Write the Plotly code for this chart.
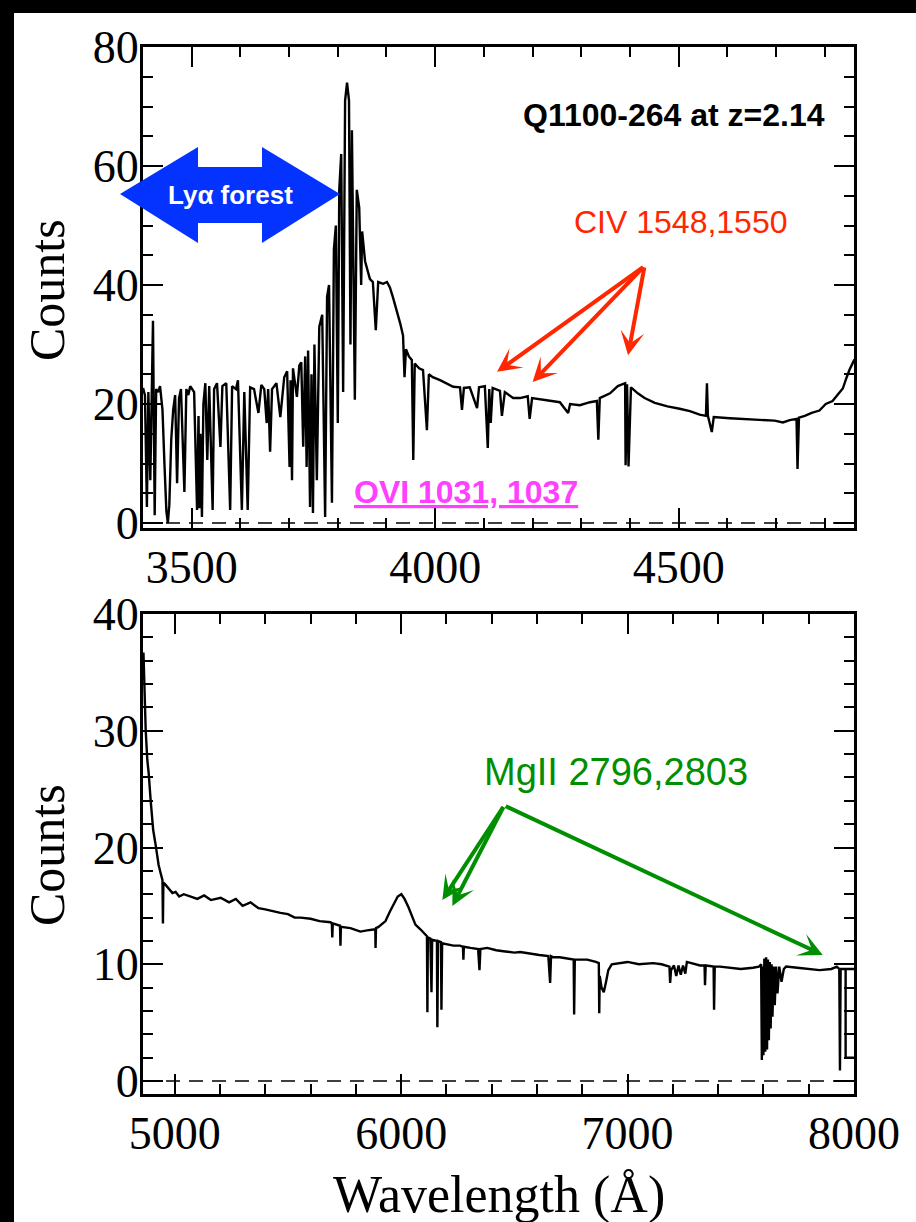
import plotly.graph_objects as go

# ---------------- data ----------------
top_wavelength = [
    3400, 3404, 3408, 3411, 3415, 3418, 3420.5, 3422, 3424, 3427,
    3431, 3435, 3440, 3444, 3448, 3451, 3454, 3458, 3462, 3466,
    3470, 3474, 3478, 3485, 3489, 3493, 3497, 3505, 3511, 3514,
    3516, 3518, 3521, 3524, 3528, 3532, 3536, 3543, 3546, 3552,
    3559, 3563, 3571, 3579, 3583, 3591, 3595, 3603, 3608, 3615,
    3620, 3628, 3637, 3643, 3649, 3654, 3657, 3661, 3665, 3674,
    3682, 3690, 3696, 3701, 3703, 3706, 3708, 3716, 3721, 3725,
    3729, 3733, 3736, 3739, 3743, 3746, 3749, 3752, 3757, 3762,
    3768, 3774, 3778, 3782, 3788, 3792, 3796, 3800, 3803, 3807,
    3811, 3815, 3819, 3823, 3826, 3829, 3835, 3839, 3844, 3848,
    3850, 3856, 3862, 3866, 3872, 3878, 3883, 3893, 3901, 3907,
    3913, 3922, 3928, 3934, 3937, 3940, 3946, 3952, 3955, 3958,
    3967, 3975, 3983, 3987, 3995, 4010, 4024, 4037, 4051, 4055,
    4059, 4071, 4086, 4090, 4102, 4108, 4111, 4114, 4118, 4133,
    4137, 4143, 4160, 4174, 4190, 4194, 4199, 4215, 4236, 4256,
    4273, 4277, 4297, 4318, 4332, 4335, 4338, 4359, 4375, 4390,
    4391, 4394, 4397, 4402, 4416, 4430, 4451, 4477, 4502, 4523,
    4543, 4556, 4558, 4560, 4568, 4572, 4605, 4636, 4666, 4697,
    4714, 4728, 4742, 4744, 4747, 4759, 4773, 4789, 4802, 4816,
    4826, 4837, 4845, 4851, 4861,
]
top_counts = [
    22.7, 21.5, 2.7, 22.0, 7.2, 21.0, 34.0, 20.0, 1.3, 22.5,
    22.0, 23.0, 19.0, 10.0, 2.0, 0.0, 3.0, 14.0, 19.0, 21.5,
    6.7, 21.0, 22.5, 5.2, 22.5, 21.5, 23.0, 22.0, 2.2, 18.0,
    2.5, 15.0, 1.0, 20.0, 23.5, 10.6, 23.0, 2.2, 22.5, 23.5,
    12.8, 23.0, 23.5, 2.2, 23.0, 22.5, 24.0, 2.2, 22.0, 2.2,
    22.8, 22.5, 18.5, 23.2, 22.5, 16.8, 22.5, 12.0, 22.5, 23.5,
    17.8, 24.5, 25.5, 9.4, 24.0, 7.2, 26.0, 21.2, 26.5, 27.0,
    12.8, 28.0, 9.4, 29.0, 2.7, 25.0, 1.7, 30.0, 7.2, 33.0,
    35.0, 1.0, 38.0, 40.0, 3.4, 46.0, 50.0, 16.8, 56.0, 62.0,
    22.0, 71.0, 74.0, 71.0, 30.0, 66.0, 20.7, 56.0, 53.0, 40.0,
    49.0, 44.0, 42.0, 41.0, 40.5, 32.4, 40.5, 40.2, 40.5, 39.6,
    38.0, 35.5, 33.6, 31.5, 24.5, 29.2, 28.0, 27.4, 10.6, 26.8,
    26.0, 25.7, 15.6, 25.0, 24.5, 24.0, 23.5, 22.9, 22.8, 19.0,
    22.7, 22.8, 19.3, 22.8, 23.0, 12.6, 22.5, 16.8, 22.7, 22.2,
    18.0, 22.0, 21.0, 21.0, 21.3, 17.5, 21.0, 20.8, 20.6, 20.3,
    18.5, 20.0, 19.8, 20.3, 20.5, 14.0, 21.0, 21.8, 23.0, 23.5,
    9.7, 23.3, 9.5, 22.8, 21.8, 21.0, 20.2, 19.6, 19.2, 18.8,
    18.2, 18.0, 23.5, 18.0, 15.3, 17.8, 17.6, 17.5, 17.3, 17.2,
    16.9, 17.3, 17.5, 9.1, 17.7, 18.0, 18.5, 18.9, 20.0, 20.5,
    21.5, 22.6, 24.5, 25.8, 27.5,
]

bottom_wavelength = [
    4862, 4866, 4872, 4879, 4885, 4894, 4905, 4916, 4929, 4938,
    4946, 4948, 4950, 4960, 4975, 4990, 5004, 5020, 5040, 5070,
    5100, 5130, 5160, 5203, 5240, 5270, 5300, 5335, 5370, 5400,
    5440, 5467, 5500, 5530, 5556, 5600, 5640, 5688, 5694, 5696,
    5698, 5720, 5730, 5732, 5734, 5776, 5800, 5820, 5850, 5880,
    5886, 5887, 5889, 5900, 5931, 5950, 5966, 5985, 6001, 6015,
    6032, 6050, 6063, 6085, 6107, 6114, 6116, 6118, 6129, 6134,
    6137, 6158, 6160, 6163, 6176, 6178, 6181, 6200, 6231, 6260,
    6273, 6275, 6277, 6306, 6340, 6346, 6350, 6380, 6420, 6460,
    6500, 6526, 6570, 6610, 6650, 6658, 6662, 6672, 6700, 6740,
    6762, 6764, 6767, 6800, 6822, 6860, 6873, 6875, 6877, 6885,
    6895, 6905, 6915, 6930, 6967, 7000, 7050, 7113, 7150, 7185,
    7188, 7192, 7205, 7215, 7225, 7235, 7245, 7255, 7262, 7300,
    7320, 7340, 7342, 7345, 7380, 7382, 7385, 7408, 7450, 7500,
    7554, 7580, 7590, 7593, 7597, 7600, 7604, 7608, 7612, 7616,
    7620, 7624, 7628, 7632, 7636, 7640, 7645, 7650, 7656, 7662,
    7670, 7680, 7690, 7700, 7750, 7800, 7848, 7900, 7924, 7935,
    7938, 7941, 7963, 8010, 8010, 7963, 7963,
]
bottom_counts = [
    36.7, 33.0, 30.0, 27.5, 26.4, 24.0, 21.5, 20.2, 18.5, 17.8,
    17.2, 13.5, 17.0, 16.8, 16.4, 16.1, 16.2, 15.8, 16.0, 15.8,
    15.6, 15.9, 15.5, 15.7, 15.3, 15.6, 15.0, 15.3, 14.8, 14.7,
    14.5, 14.4, 14.3, 14.0, 14.0, 13.9, 13.7, 13.6, 13.5, 12.3,
    13.5, 13.4, 13.3, 11.6, 13.2, 13.1, 12.9, 12.8, 12.9, 13.0,
    13.0, 11.4, 13.1, 13.2, 13.7, 14.5, 15.1, 15.8, 16.0, 15.6,
    14.9, 14.0, 13.4, 13.0, 12.5, 12.4, 5.9, 12.3, 12.2, 7.6,
    12.1, 12.0, 4.6, 12.0, 11.9, 6.1, 11.8, 11.7, 11.6, 11.6,
    11.5, 10.4, 11.5, 11.4, 11.3, 9.5, 11.3, 11.4, 11.2, 11.1,
    11.0, 11.05, 10.9, 10.8, 10.7, 8.4, 10.7, 10.6, 10.6, 10.5,
    10.4, 5.7, 10.4, 10.4, 10.4, 10.2, 10.1, 5.8, 9.0, 8.0,
    7.6, 8.5, 9.5, 10.0, 10.1, 10.2, 10.0, 10.1, 10.0, 9.8,
    8.4, 9.5, 9.9, 9.0, 9.9, 9.1, 9.9, 9.2, 10.2, 10.0,
    9.9, 9.9, 8.2, 9.9, 9.8, 6.1, 9.8, 9.8, 9.7, 9.6,
    9.7, 9.8, 10.0, 1.8, 9.8, 2.2, 10.5, 2.5, 10.6, 2.7,
    10.4, 3.5, 10.2, 4.5, 10.0, 5.5, 9.8, 6.5, 9.8, 7.5,
    9.8, 8.5, 9.6, 9.8, 9.7, 9.6, 9.5, 9.6, 9.8, 9.6,
    0.9, 9.6, 9.6, 9.6, 2.0, 2.0, 9.6,
]

top_x_range = [3400, 4860]
top_y_range = [-0.84, 80]
bottom_x_range = [4860, 8000]
bottom_y_range = [-1.11, 40]

# arrow targets (data coordinates): CIV doublet, MgII doublet
civ_heads = [(4127, 25.4), (4200, 23.7), (4396, 28.2)]
civ_tail = (4430, 43.2)
mgii_heads = [(6182, 15.5), (6226, 15.0), (7862, 10.8)]
mgii_tail = (6455, 23.6)

# ---------------- layout geometry ----------------
W, H = 916, 1222
ML, MR, MT, MB = 143, 62, 47, 128
PW = W - ML - MR
PH = H - MT - MB


def pxx(x):
    return (x - ML) / PW


def pxy(y):
    return (H - MB - y) / PH


SERIF = "Liberation Serif"
SANS = "Liberation Sans"

fig = go.Figure()

fig.add_trace(go.Scatter(x=top_wavelength, y=top_counts, mode="lines",
                         line=dict(color="black", width=2.4),
                         xaxis="x", yaxis="y", showlegend=False))
fig.add_trace(go.Scatter(x=top_x_range, y=[0, 0], mode="lines",
                         line=dict(color="black", width=1.6, dash="14px,9px"),
                         xaxis="x", yaxis="y", showlegend=False))
fig.add_trace(go.Scatter(x=bottom_wavelength, y=bottom_counts, mode="lines",
                         line=dict(color="black", width=2.4),
                         xaxis="x2", yaxis="y2", showlegend=False))
fig.add_trace(go.Scatter(x=bottom_x_range, y=[0, 0], mode="lines",
                         line=dict(color="black", width=1.6, dash="14px,9px"),
                         xaxis="x2", yaxis="y2", showlegend=False))

axis_common = dict(showline=True, linecolor="black", linewidth=3, mirror="allticks",
                   ticks="inside", ticklen=20, tickwidth=1.5, tickcolor="black",
                   showgrid=False, zeroline=False,
                   tickfont=dict(family=SERIF, size=46, color="black"))

fig.update_layout(
    width=W, height=H,
    margin=dict(l=ML, r=MR, t=MT, b=MB),
    paper_bgcolor="white", plot_bgcolor="white",
    xaxis=dict(domain=[0, 1], anchor="y", range=top_x_range, tick0=3500, dtick=500,
               minor=dict(dtick=100, tick0=3500, ticklen=10, tickwidth=1.5,
                          tickcolor="black", ticks="inside"),
               ticklabelstandoff=-3, **axis_common),
    yaxis=dict(domain=[pxy(528), pxy(47)], anchor="x", range=top_y_range, tick0=0, dtick=20,
               minor=dict(dtick=5, tick0=0, ticklen=10, tickwidth=1.5,
                          tickcolor="black", ticks="inside"),
               ticklabelstandoff=-8, **axis_common),
    xaxis2=dict(domain=[0, 1], anchor="y2", range=bottom_x_range, tick0=5000, dtick=1000,
                minor=dict(dtick=200, tick0=5000, ticklen=10, tickwidth=1.5,
                           tickcolor="black", ticks="inside"),
                ticklabelstandoff=-3, **axis_common),
    yaxis2=dict(domain=[0, pxy(614)], anchor="x2", range=bottom_y_range, tick0=0, dtick=10,
                minor=dict(dtick=2, tick0=0, ticklen=10, tickwidth=1.5,
                           tickcolor="black", ticks="inside"),
                ticklabelstandoff=-8, **axis_common),
)

shapes = []
# black border strips (left and top edges of the picture)
shapes.append(dict(type="rect", xref="paper", yref="paper",
                   x0=pxx(-5), x1=pxx(14), y0=pxy(H + 5), y1=pxy(-5),
                   fillcolor="black", line=dict(width=0), layer="above"))
shapes.append(dict(type="rect", xref="paper", yref="paper",
                   x0=pxx(-5), x1=pxx(W + 5), y0=pxy(13), y1=pxy(-5),
                   fillcolor="black", line=dict(width=0), layer="above"))

# blue double arrow for the Lya forest
arrow_px = [(120, 194), (198, 147), (198, 167), (262, 167), (262, 147),
            (340, 194), (262, 243), (262, 223), (198, 223), (198, 243)]
path = "M " + " L ".join(f"{pxx(a):.5f},{pxy(b):.5f}" for a, b in arrow_px) + " Z"
shapes.append(dict(type="path", xref="paper", yref="paper", path=path,
                   fillcolor="#0433ff", line=dict(width=0), layer="above"))
fig.update_layout(shapes=shapes)

ann = []
ann.append(dict(text="Counts", x=pxx(47), y=pxy(290), xref="paper", yref="paper",
                textangle=-90, showarrow=False, xanchor="center", yanchor="middle",
                font=dict(family=SERIF, size=50, color="black")))
ann.append(dict(text="Counts", x=pxx(47), y=pxy(855), xref="paper", yref="paper",
                textangle=-90, showarrow=False, xanchor="center", yanchor="middle",
                font=dict(family=SERIF, size=50, color="black")))
ann.append(dict(text="Wavelength (Å)", x=0.5, y=pxy(1195), xref="paper", yref="paper",
                showarrow=False, xanchor="center", yanchor="middle",
                font=dict(family=SERIF, size=52, color="black")))
ann.append(dict(text="<b>Lyα forest</b>", x=pxx(230), y=pxy(195), xref="paper", yref="paper",
                showarrow=False, xanchor="center", yanchor="middle",
                font=dict(family=SANS, size=26, color="white")))
ann.append(dict(text="<b>Q1100-264 at z=2.14</b>", x=pxx(674), y=pxy(115),
                xref="paper", yref="paper", showarrow=False,
                xanchor="center", yanchor="middle",
                font=dict(family=SANS, size=32, color="black")))
ann.append(dict(text="CIV 1548,1550", x=pxx(681), y=pxy(222), xref="paper", yref="paper",
                showarrow=False, xanchor="center", yanchor="middle",
                font=dict(family=SANS, size=32, color="#ff2600")))
ann.append(dict(text="<b><u>OVI 1031, 1037</u></b>", x=pxx(466), y=pxy(492),
                xref="paper", yref="paper", showarrow=False,
                xanchor="center", yanchor="middle",
                font=dict(family=SANS, size=32, color="#ff40ff")))
ann.append(dict(text="MgII 2796,2803", x=pxx(616), y=pxy(772), xref="paper", yref="paper",
                showarrow=False, xanchor="center", yanchor="middle",
                font=dict(family=SANS, size=38, color="#008f00")))

for hx, hy in civ_heads:
    ann.append(dict(text="", x=hx, y=hy, xref="x", yref="y",
                    ax=civ_tail[0], ay=civ_tail[1], axref="x", ayref="y",
                    showarrow=True, arrowhead=3, arrowsize=1, arrowwidth=4,
                    arrowcolor="#ff2600"))
for hx, hy in mgii_heads:
    ann.append(dict(text="", x=hx, y=hy, xref="x2", yref="y2",
                    ax=mgii_tail[0], ay=mgii_tail[1], axref="x2", ayref="y2",
                    showarrow=True, arrowhead=3, arrowsize=1, arrowwidth=4,
                    arrowcolor="#008f00"))
fig.update_layout(annotations=ann)

fig.write_html("out.html")
